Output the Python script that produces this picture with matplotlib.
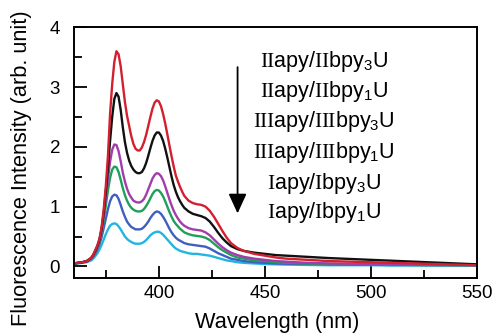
import matplotlib
matplotlib.use("Agg")
import matplotlib.pyplot as plt
from matplotlib.ticker import MultipleLocator

plt.rcParams["font.family"] = "Liberation Sans"
plt.rcParams["mathtext.fontset"] = "custom"
plt.rcParams["mathtext.rm"] = "Liberation Serif"
plt.rcParams["mathtext.sf"] = "Liberation Sans"

wavelength = [360, 362, 364, 366, 368,
              369, 370, 371, 372, 373, 374, 375, 376, 377, 378, 379, 380, 381, 382, 383,
              384, 385, 386, 387, 388, 389, 390, 391, 392, 393, 394, 395, 396, 397, 398,
              399, 400, 401, 402, 403, 404, 405, 406, 407, 408, 409, 410, 411, 412,
              414, 416, 418, 420, 422, 424, 426, 428, 430, 432, 434,
              437, 440, 445, 450, 455, 460,
              470, 480, 490, 500, 510, 520, 530, 540, 550]

red = [0.05, 0.06, 0.07, 0.09, 0.14,
       0.19, 0.27, 0.35, 0.46, 0.65, 0.95, 1.35, 1.85, 2.55, 3.05, 3.42, 3.60, 3.55, 3.35, 3.05,
       2.75, 2.52, 2.35, 2.18, 2.05, 1.97, 1.94, 1.94, 1.99, 2.08, 2.20, 2.35, 2.50, 2.64, 2.74,
       2.78, 2.76, 2.68, 2.55, 2.39, 2.21, 2.02, 1.84, 1.67, 1.52, 1.42, 1.33, 1.25, 1.18,
       1.10, 1.06, 1.04, 1.03, 1.00, 0.93, 0.83, 0.71, 0.59, 0.48, 0.39,
       0.31, 0.26, 0.21, 0.18, 0.15, 0.13,
       0.11, 0.09, 0.08, 0.07, 0.06, 0.05, 0.04, 0.03, 0.02]
black = [0.05, 0.06, 0.07, 0.09, 0.14,
         0.19, 0.26, 0.34, 0.45, 0.63, 0.90, 1.25, 1.65, 2.10, 2.50, 2.80, 2.90, 2.84, 2.62, 2.33,
         2.08, 1.90, 1.77, 1.68, 1.62, 1.58, 1.56, 1.56, 1.58, 1.64, 1.73, 1.85, 1.98, 2.10, 2.19,
         2.24, 2.24, 2.19, 2.10, 1.97, 1.82, 1.66, 1.50, 1.36, 1.25, 1.16, 1.09, 1.03, 0.98,
         0.92, 0.88, 0.86, 0.84, 0.81, 0.75, 0.66, 0.56, 0.47, 0.40, 0.34,
         0.29, 0.26, 0.23, 0.21, 0.19, 0.18,
         0.16, 0.14, 0.125, 0.11, 0.095, 0.08, 0.065, 0.05, 0.035]
purple = [0.05, 0.06, 0.07, 0.09, 0.13,
          0.17, 0.24, 0.32, 0.43, 0.60, 0.85, 1.15, 1.47, 1.75, 1.95, 2.04, 2.03, 1.93, 1.76, 1.57,
          1.42, 1.30, 1.21, 1.15, 1.10, 1.08, 1.07, 1.07, 1.09, 1.13, 1.20, 1.29, 1.38, 1.47, 1.53,
          1.56, 1.55, 1.51, 1.44, 1.34, 1.23, 1.12, 1.02, 0.93, 0.86, 0.80, 0.75, 0.71, 0.68,
          0.64, 0.62, 0.61, 0.60, 0.57, 0.52, 0.45, 0.38, 0.32, 0.27, 0.23,
          0.19, 0.16, 0.13, 0.11, 0.09, 0.08,
          0.06, 0.05, 0.045, 0.04, 0.035, 0.03, 0.03, 0.025, 0.025]
green = [0.05, 0.06, 0.07, 0.09, 0.13,
         0.17, 0.23, 0.31, 0.41, 0.56, 0.77, 1.02, 1.27, 1.48, 1.62, 1.67, 1.66, 1.58, 1.45, 1.31,
         1.19, 1.10, 1.03, 0.98, 0.95, 0.93, 0.92, 0.92, 0.93, 0.96, 1.01, 1.07, 1.14, 1.21, 1.26,
         1.28, 1.27, 1.23, 1.17, 1.09, 1.00, 0.91, 0.83, 0.76, 0.71, 0.67, 0.63, 0.60, 0.57,
         0.54, 0.52, 0.51, 0.50, 0.48, 0.44, 0.38, 0.32, 0.27, 0.23, 0.19,
         0.15, 0.13, 0.10, 0.09, 0.07, 0.06,
         0.05, 0.04, 0.035, 0.03, 0.03, 0.025, 0.025, 0.02, 0.02]
blue = [0.05, 0.06, 0.07, 0.08, 0.12,
        0.16, 0.21, 0.28, 0.37, 0.49, 0.64, 0.80, 0.96, 1.09, 1.17, 1.20, 1.19, 1.13, 1.03, 0.92,
        0.83, 0.75, 0.70, 0.66, 0.64, 0.62, 0.62, 0.62, 0.63, 0.66, 0.70, 0.75, 0.81, 0.86, 0.90,
        0.92, 0.91, 0.88, 0.83, 0.77, 0.70, 0.63, 0.57, 0.52, 0.48, 0.45, 0.43, 0.41, 0.39,
        0.37, 0.36, 0.35, 0.34, 0.33, 0.30, 0.26, 0.22, 0.19, 0.16, 0.13,
        0.11, 0.09, 0.07, 0.06, 0.05, 0.045,
        0.04, 0.035, 0.03, 0.03, 0.025, 0.025, 0.02, 0.02, 0.02]
cyan = [0.04, 0.05, 0.06, 0.07, 0.10,
        0.13, 0.17, 0.22, 0.28, 0.36, 0.45, 0.54, 0.62, 0.68, 0.71, 0.72, 0.71, 0.67, 0.62, 0.56,
        0.50, 0.46, 0.43, 0.41, 0.39, 0.38, 0.38, 0.38, 0.39, 0.41, 0.44, 0.48, 0.52, 0.55, 0.57,
        0.58, 0.58, 0.56, 0.53, 0.49, 0.45, 0.41, 0.37, 0.33, 0.30, 0.28, 0.26, 0.25, 0.24,
        0.22, 0.21, 0.21, 0.20, 0.19, 0.18, 0.16, 0.14, 0.12, 0.10, 0.09,
        0.07, 0.06, 0.05, 0.04, 0.035, 0.03,
        0.025, 0.02, 0.02, 0.02, 0.015, 0.015, 0.015, 0.015, 0.015]

series = [cyan, blue, green, purple, black, red]
colors = ["#22b5e0", "#3f5fbf", "#1fa05a", "#a23dab", "#111111", "#d2202f"]

labels = [
    r"$\mathrm{II}\mathsf{apy/}\mathrm{II}\mathsf{bpy}_{\mathsf{3}}\mathsf{U}$",
    r"$\mathrm{II}\mathsf{apy/}\mathrm{II}\mathsf{bpy}_{\mathsf{1}}\mathsf{U}$",
    r"$\mathrm{III}\mathsf{apy/}\mathrm{III}\mathsf{bpy}_{\mathsf{3}}\mathsf{U}$",
    r"$\mathrm{III}\mathsf{apy/}\mathrm{III}\mathsf{bpy}_{\mathsf{1}}\mathsf{U}$",
    r"$\mathrm{I}\mathsf{apy/}\mathrm{I}\mathsf{bpy}_{\mathsf{3}}\mathsf{U}$",
    r"$\mathrm{I}\mathsf{apy/}\mathrm{I}\mathsf{bpy}_{\mathsf{1}}\mathsf{U}$",
]

fig = plt.figure(figsize=(4.98, 3.35), dpi=100)
ax = fig.add_axes([0.1486, 0.169, 0.8094, 0.7495])

for ys, c in zip(series, colors):
    ax.plot(wavelength, ys, color=c, lw=1.7, solid_joinstyle="round")

ax.set_xlim(360, 550)
ax.set_ylim(-0.2, 4)
ax.xaxis.set_major_locator(MultipleLocator(50))
ax.xaxis.set_minor_locator(MultipleLocator(25))
ax.yaxis.set_major_locator(MultipleLocator(1))
ax.yaxis.set_minor_locator(MultipleLocator(0.5))
ax.tick_params(which="both", direction="in", width=1.3, labelsize=13.5)
ax.tick_params(which="major", length=9)
ax.tick_params(which="minor", length=6)
ax.tick_params(axis="x", pad=5)
ax.tick_params(axis="y", pad=10)
for s in ax.spines.values():
    s.set_linewidth(1.4)

fig.text(0.557, 0.036, "Wavelength (nm)", fontsize=15.7, ha="center", va="center")
fig.text(0.044, 0.497, "Fluorescence Intensity (arb. unit)", fontsize=15.7,
         rotation=90, ha="center", va="center")

# arrow and sample list
ax.annotate("", xy=(437.1, 0.84), xytext=(437.1, 3.38),
            arrowprops=dict(arrowstyle="-|>,head_length=1.2,head_width=0.55",
                            color="black", lw=1.3))
ys_text = [3.42, 2.92, 2.42, 1.91, 1.39, 0.9]
for lab, yt in zip(labels, ys_text):
    ax.text(477.8, yt, lab, ha="center", va="center", fontsize=15.5)

fig.savefig("out.png", dpi=100)
